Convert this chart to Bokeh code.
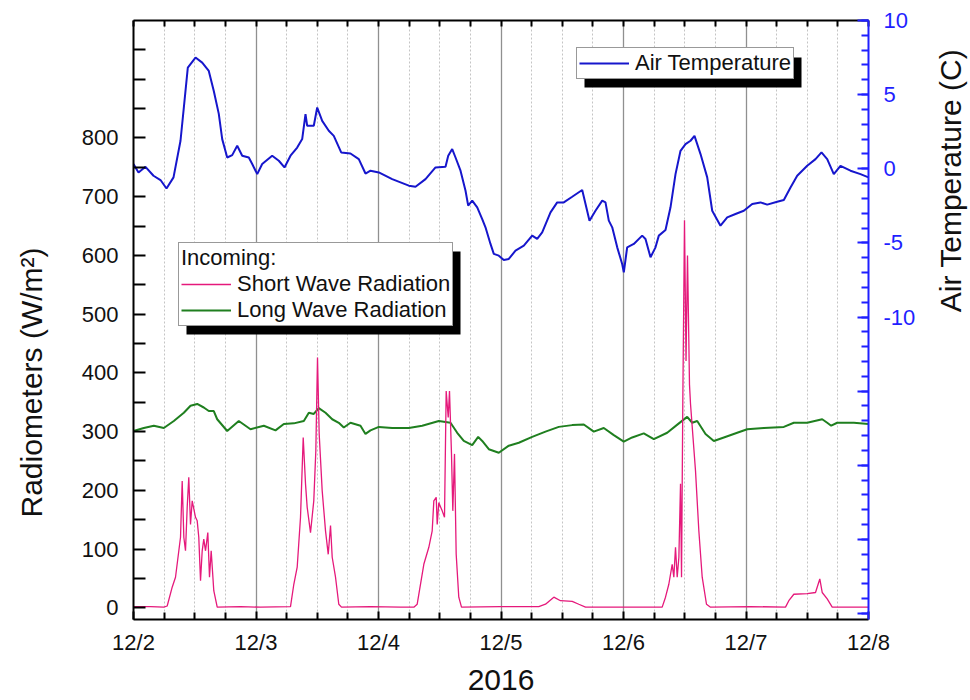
import math
from bokeh.plotting import figure
from bokeh.models import (Range1d, LinearAxis, FixedTicker, Legend, LegendItem,
                          BoxAnnotation, Label)
from bokeh.embed import file_html
from bokeh.resources import INLINE

# ---------------- data (hours since 12/2 00:00, 2016) ----------------
x_tick_hours = [0, 24, 48, 72, 96, 120, 144]
x_tick_labels = ["12/2", "12/3", "12/4", "12/5", "12/6", "12/7", "12/8"]
x_title = "2016"
left_tick_values = [0, 100, 200, 300, 400, 500, 600, 700, 800]
left_title = "Radiometers (W/m\u00b2)"
right_tick_values = [-30, -25, -20, -15, -10, -5, 0, 5, 10]
right_labeled = [-10, -5, 0, 5, 10]
right_tick_labels = ["-10", "-5", "0", "5", "10"]
right_title = "Air Temperature (C)"

temp_hours = [0, 0.98, 2.35, 3.92, 5.29, 6.47, 7.84, 9.21, 9.86, 10.64,
              12.15, 13.46, 14.75, 15.73, 16.71, 17.38, 18.36, 19.34, 20.32, 21.3,
              22.59, 23.26, 24.24, 25.21, 27.17, 28.47, 29.58, 30.76, 32.07, 33.05,
              33.7, 34.03, 35.32, 35.99, 36.97, 38.26, 39.24, 40.69, 42.51, 44.14,
              45.45, 46.43, 48.06, 50.68, 53.94, 55.25, 57.21, 59.17, 61.13, 61.66,
              62.44, 63.09, 64.07, 65.05, 65.57, 66.36, 67.34, 68.32, 68.96, 69.94,
              70.59, 71.57, 72.55, 73.53, 74.84, 76.47, 78.11, 79.09, 80.07, 81.7,
              83.01, 84.3, 85.95, 87.91, 88.56, 89.34, 90.51, 91.83, 92.47, 93.12,
              93.79, 94.77, 95.74, 96.06, 96.72, 98.02, 99.66, 100.31, 101.29, 102.27,
              102.92, 104.23, 105.21, 106.19, 107.17, 108.15, 109.13, 109.91, 111.09, 112.4,
              113.38, 115.0, 116.32, 117.94, 119.57, 121.22, 122.84, 124.16, 126.11, 127.41,
              128.72, 130.03, 131.99, 133.62, 134.79, 135.91, 137.2, 138.51, 140.47, 142.43,
              144]
temp_values = [0.32, -0.25, 0.13, -0.47, -0.76, -1.33, -0.58, 1.89, 4.13, 6.82,
               7.5, 7.16, 6.6, 5.25, 3.7, 2.0, 0.76, 0.92, 1.55, 0.88,
               0.76, 0.32, -0.36, 0.32, 0.88, 0.54, 0.09, 0.88, 1.43, 2.0,
               3.68, 2.9, 2.9, 4.13, 3.23, 2.56, 2.22, 1.1, 1.03, 0.65,
               -0.32, -0.13, -0.25, -0.7, -1.14, -1.21, -0.7, 0.09, 0.13, 0.88,
               1.33, 0.76, -0.13, -1.48, -2.49, -2.15, -2.6, -3.39, -3.95, -5.07,
               -5.74, -5.86, -6.15, -6.08, -5.52, -5.19, -4.51, -4.73, -4.29, -2.94,
               -2.27, -2.27, -1.89, -1.43, -2.38, -3.5, -2.83, -2.15, -2.27, -3.5,
               -3.95, -5.3, -6.42, -6.98, -5.3, -5.07, -4.51, -4.74, -5.97, -5.3,
               -4.51, -4.13, -2.6, -0.36, 1.21, 1.66, 1.89, 2.22, 0.99, -0.58,
               -2.83, -3.84, -3.28, -3.05, -2.83, -2.38, -2.27, -2.42, -2.22, -2.11,
               -1.26, -0.47, 0.2, 0.65, 1.1, 0.65, -0.36, 0.2, -0.13, -0.36,
               -0.58]

sw_hours = [0, 3.33, 5.94, 6.6, 7.58, 8.23, 8.88, 9.21, 9.54, 9.86,
            10.19, 10.52, 10.83, 11.17, 11.5, 12.15, 12.48, 12.79, 13.13, 13.46,
            13.77, 14.11, 14.56, 14.89, 15.22, 15.73, 16.4, 20.96, 24.88, 30.76,
            31.41, 32.07, 32.72, 33.25, 33.7, 34.03, 34.68, 35.32, 35.72, 36.05,
            36.38, 36.97, 37.62, 38.15, 38.6, 38.93, 39.58, 40.22, 40.75, 46.43,
            52.31, 54.92, 55.58, 56.88, 57.86, 58.52, 58.84, 59.31, 59.5, 59.82,
            60.48, 60.93, 61.26, 61.66, 61.91, 62.3, 62.56, 62.89, 63.22, 63.73,
            64.26, 71.9, 79.4, 80.72, 82.35, 83.66, 85.95, 87.24, 88.56, 95.41,
            103.58, 104.23, 104.88, 105.54, 105.86, 106.19, 106.52, 106.85, 107.17, 107.37,
            107.62, 107.95, 108.25, 108.54, 108.93, 109.13, 110.11, 110.76, 111.42, 112.26,
            113.05, 120.88, 127.74, 128.39, 129.37, 131.99, 133.62, 134.46, 134.93, 135.91,
            136.89, 144]
sw_values = [2, 2, 1, 3, 35, 52, 97, 120, 216, 120,
             97, 171, 222, 142, 182, 154, 148, 120, 46, 97,
             117, 97, 128, 52, 97, 29, 1, 2, 1, 2,
             40, 69, 154, 290, 211, 171, 128, 182, 267, 426,
             296, 199, 131, 91, 140, 86, 52, 6, 1, 2,
             1, 1, 6, 74, 103, 131, 182, 188, 142, 179,
             165, 154, 369, 324, 369, 262, 165, 262, 91, 18,
             1, 2, 2, 6, 18, 12, 11, 6, 1, 1,
             1, 18, 40, 74, 52, 103, 52, 86, 211, 52,
             350, 660, 420, 600, 380, 347, 233, 131, 52, 6,
             1, 2, 1, 12, 23, 24, 26, 49, 26, 15,
             1, 1]

lw_hours = [0, 2.02, 3.98, 5.94, 7.9, 9.86, 11.17, 12.48, 13.77, 14.75,
            15.73, 16.4, 18.36, 20.63, 22.92, 25.53, 27.82, 29.45, 31.41, 33.37,
            34.35, 35.32, 36.3, 37.62, 38.93, 40.22, 41.2, 42.51, 44.47, 45.45,
            46.43, 48.06, 50.68, 53.94, 56.56, 59.82, 62.11, 63.42, 64.71, 66.36,
            67.53, 68.32, 69.61, 71.57, 73.53, 75.49, 78.11, 80.72, 83.32, 85.95,
            88.22, 90.18, 92.14, 94.1, 96.06, 97.7, 99.97, 101.94, 104.56, 106.85,
            108.48, 109.46, 110.44, 112.07, 113.7, 115.66, 118.28, 120.24, 123.49, 127.41,
            129.37, 131.99, 134.93, 135.91, 136.69, 137.87, 141.13, 144]
lw_values = [301, 306, 310, 306, 318, 332, 344, 347, 341, 335,
             335, 321, 301, 318, 304, 310, 302, 313, 314, 318,
             332, 330, 340, 332, 321, 315, 307, 315, 310, 296,
             302, 308, 306, 306, 310, 318, 315, 298, 284, 277,
             291, 284, 270, 264, 276, 281, 291, 300, 308, 311,
             312, 300, 306, 294, 283, 290, 297, 287, 298, 314,
             325, 315, 318, 296, 284, 290, 298, 304, 306, 308,
             315, 315, 321, 315, 310, 315, 315, 313]

temp_label = "Air Temperature"
incoming_title = "Incoming:"
sw_label = "Short Wave Radiation"
lw_label = "Long Wave Radiation"

# ---------------- styling ----------------
FONT = "Liberation Sans"
BLUE_AX = "#1f1fff"
C_TEMP = "#1616cc"
C_SW = "#e5197b"
C_LW = "#1f7f1f"
TXT = "#111111"

six_hours = [h for h in range(0, 145, 6) if h % 24 != 0]
left_minor = [v for v in range(50, 1000, 50) if v not in left_tick_values]

p = figure(width=970, height=700, x_range=Range1d(0, 144), y_range=Range1d(-20, 1000),
           output_backend="svg", toolbar_location=None,
           min_border_left=133, min_border_right=102, min_border_top=20, min_border_bottom=81)
p.outline_line_color = None
p.background_fill_color = "white"
p.border_fill_color = "white"
p.extra_y_ranges = {"temp": Range1d(-30.4, 10)}

# bottom axis
xb = p.xaxis[0]
xb.ticker = FixedTicker(ticks=x_tick_hours, minor_ticks=six_hours)
xb.major_label_overrides = {h: lab for h, lab in zip(x_tick_hours, x_tick_labels)}
xb.axis_label = x_title
xb.axis_label_text_font = FONT
xb.axis_label_text_font_size = "30px"
xb.axis_label_text_font_style = "normal"
xb.axis_label_text_color = TXT
xb.axis_label_standoff = 12
xb.major_label_text_font = FONT
xb.major_label_text_font_size = "22px"
xb.major_label_text_color = TXT
xb.major_label_standoff = 10
xb.axis_line_width = 2
xb.axis_line_color = "black"
xb.major_tick_in = 8
xb.major_tick_out = 0
xb.minor_tick_in = 7
xb.minor_tick_out = 0
xb.major_tick_line_width = 2
xb.minor_tick_line_width = 2

# left axis
yl = p.yaxis[0]
yl.ticker = FixedTicker(ticks=left_tick_values, minor_ticks=left_minor)
yl.major_label_text_font = FONT
yl.major_label_text_font_size = "22px"
yl.major_label_text_color = TXT
yl.major_label_standoff = 15
yl.axis_line_width = 2
yl.axis_line_color = "black"
yl.major_tick_in = 12
yl.major_tick_out = 0
yl.minor_tick_in = 12
yl.minor_tick_out = 0
yl.major_tick_line_width = 2
yl.minor_tick_line_width = 2

# right axis (temperature)
yr = LinearAxis(y_range_name="temp",
                ticker=FixedTicker(ticks=right_tick_values, minor_ticks=list(range(-30, 11))))
overrides = {v: "" for v in right_tick_values if v not in right_labeled}
overrides.update({v: lab for v, lab in zip(right_labeled, right_tick_labels)})
yr.major_label_overrides = overrides
yr.major_label_text_font = FONT
yr.major_label_text_font_size = "22px"
yr.major_label_text_color = BLUE_AX
yr.major_label_standoff = 15
yr.axis_line_width = 2
yr.axis_line_color = BLUE_AX
yr.major_tick_line_color = BLUE_AX
yr.minor_tick_line_color = BLUE_AX
yr.major_tick_in = 11
yr.major_tick_out = 0
yr.minor_tick_in = 7
yr.minor_tick_out = 0
yr.major_tick_line_width = 2
yr.minor_tick_line_width = 2
p.add_layout(yr, "right")

# top axis (ticks only)
xt = LinearAxis(ticker=FixedTicker(ticks=x_tick_hours, minor_ticks=six_hours))
xt.major_label_overrides = {h: "" for h in x_tick_hours}
xt.major_label_text_font_size = "0px"
xt.major_label_standoff = 0
xt.axis_line_width = 2
xt.axis_line_color = "black"
xt.major_tick_in = 6
xt.major_tick_out = 0
xt.minor_tick_in = 6
xt.minor_tick_out = 0
xt.major_tick_line_width = 2
xt.minor_tick_line_width = 2
p.add_layout(xt, "above")

# vertical axis titles (placed like the original, not centred on the frame)
for txt, cx, cy, side in [(left_title, 31, 382, "left"), (right_title, 950, 180, "right")]:
    p.add_layout(Label(text=txt, x=cx, y=cy, x_units="canvas", y_units="canvas",
                       angle=math.pi / 2, text_align="center", text_baseline="middle",
                       text_font=FONT, text_font_size="30px", text_color=TXT), side)

# grid
p.ygrid.visible = False
p.xgrid.grid_line_color = "#909090"
p.xgrid.grid_line_width = 1.3
p.xgrid.minor_grid_line_color = "#c4c4c4"
p.xgrid.minor_grid_line_width = 1
p.xgrid.minor_grid_line_dash = "2 2"

# series
r_temp = p.line(temp_hours, temp_values, y_range_name="temp", line_color=C_TEMP, line_width=2)
r_lw = p.line(lw_hours, lw_values, line_color=C_LW, line_width=2)
r_sw = p.line(sw_hours, sw_values, line_color=C_SW, line_width=1.3)

# legend shadows (canvas pixels)
for (l, r, t, b) in [(584, 801, 57, 87), (186, 460, 251, 334)]:
    p.add_layout(BoxAnnotation(left=l, right=r, top=t, bottom=b,
                               left_units="canvas", right_units="canvas",
                               top_units="canvas", bottom_units="canvas",
                               fill_color="black", fill_alpha=1.0, line_color=None))

def style_legend(lg, pad):
    lg.label_text_font = FONT
    lg.label_text_font_size = "22px"
    lg.label_text_color = TXT
    lg.border_line_color = "#333333"
    lg.border_line_width = 1.3
    lg.background_fill_color = "white"
    lg.background_fill_alpha = 1.0
    lg.padding = pad
    lg.margin = 0
    lg.glyph_width = 50
    lg.glyph_height = 22
    lg.label_height = 22
    lg.label_standoff = 6
    lg.spacing = 0

leg_t = Legend(items=[LegendItem(label=temp_label, renderers=[r_temp])], location=(443, 540))
style_legend(leg_t, 2)
leg_i = Legend(items=[LegendItem(label=sw_label, renderers=[r_sw]),
                      LegendItem(label=lw_label, renderers=[r_lw])],
               location=(45, 293), title=incoming_title)
style_legend(leg_i, 2)
leg_i.title_text_font = FONT
leg_i.title_text_font_size = "22px"
leg_i.title_text_font_style = "normal"
leg_i.title_text_color = TXT
leg_i.title_standoff = 0
p.add_layout(leg_t)
p.add_layout(leg_i)

open("out.html", "w").write(file_html(p, INLINE))
